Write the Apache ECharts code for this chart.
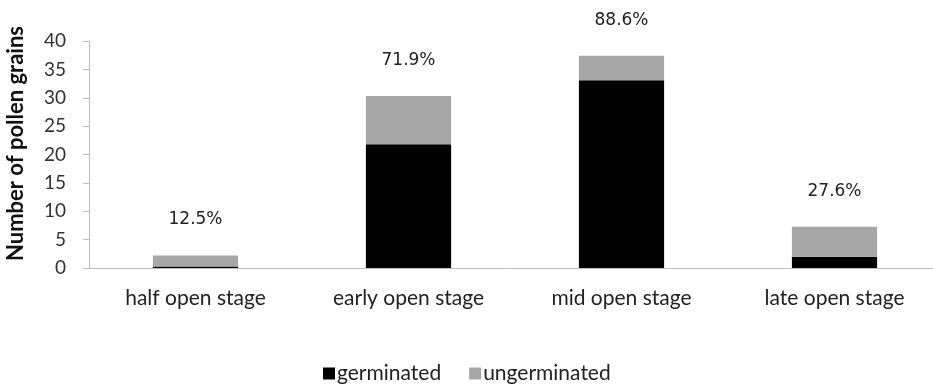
<!DOCTYPE html>
<html>
<head>
<meta charset="utf-8">
<script src="https://cdn.jsdelivr.net/npm/echarts@6/dist/echarts.min.js"></script>
<style>
  html, body { margin: 0; padding: 0; background: #fff; }
  #chart { width: 933px; height: 392px; }
</style>
</head>
<body>
<div id="chart"></div>
<script>
var stages = ['half open stage', 'early open stage', 'mid open stage', 'late open stage'];
var germinated = [0.27, 21.8, 33.1, 2.0];
var ungerminated = [1.93, 8.5, 4.3, 5.25];
var percentLabels = ['12.5%', '71.9%', '88.6%', '27.6%'];

var chart = echarts.init(document.getElementById('chart'));
var option = {
    animation: false,
    textStyle: { fontFamily: 'Lato' },
    grid: { left: 89, top: 41, width: 852, height: 227, outerBoundsMode: 'none', containLabel: false },
    legend: {
        bottom: 3,
        left: 318,
        itemWidth: 12,
        itemHeight: 12,
        itemGap: 28,
        icon: 'rect',
        textStyle: { fontSize: 21, color: '#222', padding: [0, 0, 0, -3] },
        data: ['germinated', 'ungerminated']
    },
    xAxis: {
        type: 'category',
        data: stages,
        axisLine: { lineStyle: { color: '#bfbfbf' } },
        axisTick: { show: false },
        axisLabel: { fontSize: 21, color: '#222', margin: 20 }
    },
    yAxis: {
        type: 'value',
        min: 0,
        max: 40,
        interval: 5,
        name: 'Number of pollen grains',
        nameLocation: 'middle',
        nameGap: 62,
        nameTextStyle: { fontSize: 22, fontWeight: 'bold', color: '#111', padding: [0, 0, 0, 22] },
        axisLine: { show: true, lineStyle: { color: '#bfbfbf' } },
        axisTick: { show: true, length: 6, lineStyle: { color: '#bfbfbf' } },
        axisLabel: { fontSize: 19, color: '#333', margin: 23 },
        splitLine: { show: false }
    },
    series: [
        {
            name: 'germinated',
            type: 'bar',
            stack: 'total',
            barWidth: '40%',
            data: germinated,
            itemStyle: { color: '#000000' }
        },
        {
            name: 'ungerminated',
            type: 'bar',
            stack: 'total',
            data: ungerminated,
            itemStyle: { color: '#a6a6a6' },
            label: {
                show: true,
                position: 'top',
                distance: 27,
                fontSize: 17,
                fontFamily: 'DejaVu Sans',
                color: '#222',
                formatter: function (p) { return percentLabels[p.dataIndex]; }
            }
        }
    ]
};
chart.setOption(option);
</script>
</body>
</html>
